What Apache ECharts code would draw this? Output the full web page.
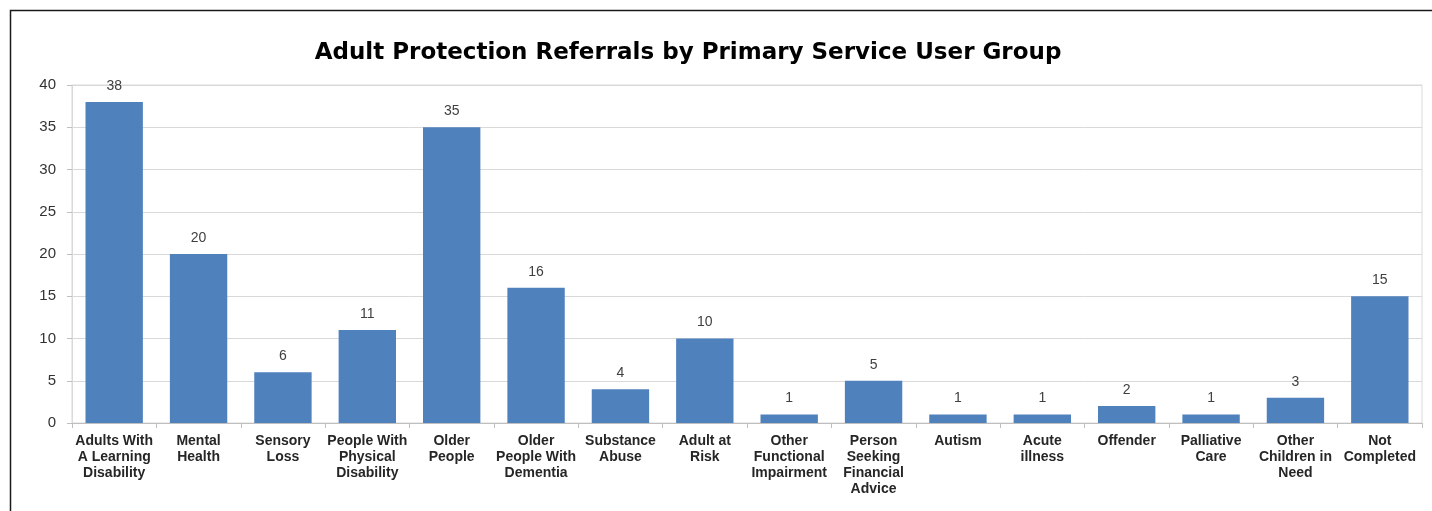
<!DOCTYPE html>
<html>
<head>
<meta charset="utf-8">
<script src="https://cdn.jsdelivr.net/npm/echarts@6/dist/echarts.min.js"></script>
<style>
  html, body { margin: 0; padding: 0; background: #fff; }
  #chart { width: 1432px; height: 511px; }
</style>
</head>
<body>
<div id="chart"></div>
<script>
// Referral counts per primary service user group
const categories = [
  'Adults With\nA Learning\nDisability',
  'Mental\nHealth',
  'Sensory\nLoss',
  'People With\nPhysical\nDisability',
  'Older\nPeople',
  'Older\nPeople With\nDementia',
  'Substance\nAbuse',
  'Adult at\nRisk',
  'Other\nFunctional\nImpairment',
  'Person\nSeeking\nFinancial\nAdvice',
  'Autism',
  'Acute\nillness',
  'Offender',
  'Palliative\nCare',
  'Other\nChildren in\nNeed',
  'Not\nCompleted'
];
const referrals = [38, 20, 6, 11, 35, 16, 4, 10, 1, 5, 1, 1, 2, 1, 3, 15];
const yTicks = { min: 0, max: 40, interval: 5 };

const chart = echarts.init(document.getElementById('chart'));
chart.setOption({
  animation: false,
  backgroundColor: '#ffffff',
  title: {
    text: 'Adult Protection Referrals by Primary Service User Group',
    left: 683,
    textAlign: 'center',
    top: 37,
    textStyle: {
      fontFamily: 'DejaVu Sans, Verdana, sans-serif',
      fontWeight: 'bold',
      fontSize: 23,
      color: '#000000'
    }
  },
  graphic: [{
    type: 'rect',
    shape: { x: 10.5, y: 10.5, width: 1500, height: 600 },
    style: { fill: 'none', stroke: '#1a1a1a', lineWidth: 1.5 },
    silent: true
  }],
  grid: {
    left: 72, right: 10, top: 85, bottom: 88,
    show: true,
    borderColor: '#d9d9d9',
    borderWidth: 1
  },
  xAxis: {
    type: 'category',
    data: categories,
    axisLine: { show: true, lineStyle: { color: '#bfbfbf', width: 1 } },
    axisTick: { show: true, length: 5, lineStyle: { color: '#bfbfbf' } },
    axisLabel: {
      interval: 0,
      margin: 10,
      fontFamily: 'Liberation Sans Narrow, Arial Narrow, Liberation Sans, sans-serif',
      fontWeight: 'bold',
      fontSize: 14,
      lineHeight: 16,
      color: '#262626'
    }
  },
  yAxis: {
    type: 'value',
    min: yTicks.min,
    max: yTicks.max,
    interval: yTicks.interval,
    axisLine: { show: true, lineStyle: { color: '#d9d9d9', width: 1 } },
    axisTick: { show: true, length: 5, lineStyle: { color: '#bfbfbf' } },
    splitLine: { show: true, lineStyle: { color: '#d9d9d9', width: 1 } },
    axisLabel: {
      margin: 16,
      fontFamily: 'Liberation Sans, Arial, sans-serif',
      fontSize: 15,
      color: '#333333'
    }
  },
  series: [{
    type: 'bar',
    data: referrals,
    barWidth: '68%',
    itemStyle: { color: '#4f81bd' },
    label: {
      show: true,
      position: 'top',
      distance: 9,
      fontFamily: 'Liberation Sans, Arial, sans-serif',
      fontSize: 14,
      color: '#404040'
    }
  }]
});
</script>
</body>
</html>
